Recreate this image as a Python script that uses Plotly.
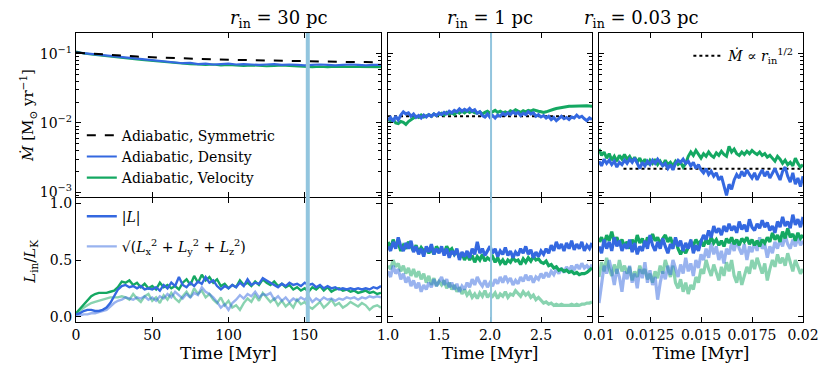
import numpy as np
import plotly.graph_objects as go

FONT = "DejaVu Serif"
BLUE = "#3468e0"
GREEN = "#14a862"
BLUE_LIGHT = "rgba(52,104,224,0.5)"
GREEN_LIGHT = "rgba(20,168,98,0.5)"
SNAP = "#92c5de"

# ---- data ----
titles = ["30", "1", "0.03"]
t_lim_30 = [0, 200]
t_lim_1 = [1.0, 3.0]
t_lim_003 = [0.01, 0.02]
snap_t_30 = 152
snap_t_1 = 2.01

# r_in = 30 pc, accretion rate
mdot_sym_30 = [0.104, 0.1, 0.097, 0.094, 0.091, 0.089, 0.087, 0.085, 0.084, 0.083, 0.082,
               0.081, 0.08, 0.079, 0.079, 0.078, 0.077, 0.077, 0.076, 0.076, 0.075]
mdot_den_30 = [0.105, 0.102, 0.1, 0.097, 0.094, 0.092, 0.089, 0.087, 0.085, 0.083, 0.081,
               0.079, 0.077, 0.075, 0.073, 0.074, 0.071, 0.072, 0.07, 0.071, 0.072, 0.07,
               0.071, 0.07, 0.069, 0.07, 0.071, 0.069, 0.07, 0.069, 0.068, 0.069, 0.07,
               0.069, 0.068, 0.069, 0.07, 0.069, 0.068, 0.069, 0.069]
mdot_vel_30 = [0.108, 0.101, 0.098, 0.095, 0.092, 0.09, 0.087, 0.085, 0.083, 0.081, 0.079,
               0.077, 0.075, 0.073, 0.072, 0.071, 0.07, 0.069, 0.07, 0.068, 0.069, 0.068,
               0.067, 0.068, 0.067, 0.066, 0.067, 0.068, 0.067, 0.066, 0.065, 0.064, 0.065,
               0.064, 0.065, 0.065, 0.064, 0.065, 0.064, 0.064, 0.064]

# r_in = 30 pc, angular momentum
L_den_30 = [0.02, 0.03, 0.05, 0.06, 0.06, 0.05, 0.05, 0.06, 0.08, 0.12, 0.18, 0.24, 0.27, 0.28,
            0.26, 0.27, 0.25, 0.27, 0.24, 0.25, 0.24, 0.26, 0.23, 0.28, 0.25, 0.3, 0.27, 0.35,
            0.28, 0.26, 0.3, 0.27, 0.31, 0.29, 0.35, 0.3, 0.32, 0.27, 0.24, 0.27, 0.25, 0.28,
            0.26, 0.3, 0.27, 0.33, 0.28, 0.3, 0.29, 0.34, 0.32, 0.3, 0.28, 0.26, 0.29, 0.27,
            0.3, 0.28, 0.29, 0.27, 0.3, 0.28, 0.29, 0.26, 0.28, 0.25, 0.27, 0.25, 0.26, 0.24,
            0.25, 0.24, 0.25, 0.24, 0.25, 0.24, 0.25, 0.24, 0.26, 0.25, 0.27]
L_vel_30 = [0.03, 0.07, 0.11, 0.15, 0.18, 0.2, 0.21, 0.21, 0.21, 0.22, 0.23, 0.26, 0.31, 0.3,
            0.32, 0.28, 0.3, 0.26, 0.29, 0.25, 0.27, 0.24, 0.3, 0.26, 0.28, 0.25, 0.27, 0.24,
            0.3, 0.33, 0.28, 0.36, 0.3, 0.37, 0.32, 0.35, 0.3, 0.33, 0.27, 0.29, 0.25, 0.28,
            0.26, 0.32, 0.28, 0.3, 0.27, 0.31, 0.28, 0.33, 0.3, 0.28, 0.31, 0.27, 0.29, 0.26,
            0.28, 0.24, 0.26, 0.23, 0.25, 0.22, 0.26, 0.24, 0.27, 0.23, 0.26, 0.22, 0.24, 0.25,
            0.23, 0.24, 0.22, 0.23, 0.21, 0.22, 0.23, 0.21, 0.22, 0.2, 0.21]
Lq_den_30 = [0.01, 0.01, 0.02, 0.02, 0.03, 0.03, 0.04, 0.05, 0.06, 0.09, 0.12, 0.14, 0.15, 0.17,
             0.16, 0.15, 0.17, 0.16, 0.18, 0.15, 0.17, 0.14, 0.18, 0.16, 0.2, 0.17, 0.22, 0.19,
             0.16, 0.2, 0.17, 0.21, 0.19, 0.26, 0.22, 0.2, 0.17, 0.13, 0.08, 0.11, 0.06, 0.12,
             0.15, 0.19, 0.16, 0.2, 0.18, 0.22, 0.17, 0.2, 0.19, 0.21, 0.15, 0.18, 0.14, 0.17,
             0.13, 0.16, 0.14, 0.17, 0.15, 0.18, 0.13, 0.16, 0.14, 0.17, 0.15, 0.16, 0.14, 0.16,
             0.15, 0.17, 0.16, 0.17, 0.15, 0.17, 0.16, 0.18, 0.17, 0.18, 0.17]
Lq_vel_30 = [0.02, 0.05, 0.08, 0.1, 0.12, 0.13, 0.14, 0.15, 0.16, 0.17, 0.17, 0.17, 0.18, 0.17,
             0.15, 0.2, 0.16, 0.13, 0.18, 0.2, 0.14, 0.17, 0.12, 0.19, 0.15, 0.21, 0.16, 0.13,
             0.18, 0.22, 0.17, 0.25, 0.2, 0.23, 0.17, 0.2, 0.15, 0.12, 0.17, 0.1, 0.14, 0.08,
             0.1, 0.06, 0.12, 0.16, 0.13, 0.19, 0.14, 0.21, 0.17, 0.13, 0.16, 0.1, 0.14, 0.09,
             0.12, 0.08, 0.15, 0.11, 0.13, 0.09, 0.07, 0.1, 0.13, 0.08, 0.11, 0.15, 0.1, 0.12,
             0.08, 0.1, 0.13, 0.11, 0.09, 0.12, 0.1, 0.06, 0.09, 0.1, 0.08]

# r_in = 1 pc
mdot_den_1 = [0.011, 0.012, 0.0105, 0.0125, 0.011, 0.013, 0.0145, 0.0135, 0.014, 0.0125, 0.0135,
              0.012, 0.0128, 0.0118, 0.013, 0.0122, 0.0132, 0.0125, 0.0135, 0.0128, 0.014,
              0.0132, 0.0142, 0.0135, 0.0148, 0.014, 0.0152, 0.0145, 0.016, 0.0148, 0.0158,
              0.015, 0.0162, 0.0148, 0.0155, 0.0138, 0.0145, 0.0128, 0.0122, 0.0135, 0.012,
              0.0128, 0.0118, 0.013, 0.0125, 0.0138, 0.013, 0.014, 0.0132, 0.0145, 0.0135,
              0.0142, 0.0128, 0.0138, 0.0132, 0.0145, 0.0135, 0.014, 0.0125, 0.0132, 0.0122,
              0.0128, 0.0118, 0.0125, 0.0112, 0.012, 0.0108, 0.0118, 0.0125, 0.0115, 0.012,
              0.0112, 0.0122, 0.0118, 0.013, 0.012, 0.0125, 0.0115, 0.0108, 0.0118, 0.0112]
mdot_vel_1 = [0.0115, 0.0105, 0.0112, 0.01, 0.0098, 0.0105, 0.0102, 0.0095, 0.0105, 0.0112, 0.0118,
              0.0125, 0.012, 0.013, 0.0122, 0.0128, 0.0132, 0.0125, 0.0135, 0.0128, 0.0132,
              0.0138, 0.013, 0.0142, 0.0135, 0.014, 0.0132, 0.0145, 0.0138, 0.0148, 0.014,
              0.015, 0.0142, 0.0148, 0.014, 0.0138, 0.0145, 0.0135, 0.0142, 0.0148, 0.0138,
              0.0145, 0.0152, 0.0142, 0.0148, 0.014, 0.0145, 0.0138, 0.015, 0.0145, 0.0155,
              0.0148, 0.0142, 0.015, 0.0145, 0.0152, 0.0148, 0.0155, 0.015, 0.0148, 0.0145,
              0.0142, 0.0145, 0.0148, 0.0152, 0.0158, 0.0162, 0.0165, 0.0168, 0.017, 0.0172,
              0.0174, 0.0175, 0.0176, 0.0177, 0.0178, 0.0178, 0.0178, 0.0177, 0.0176, 0.0175]
scaling_t_1 = [1.0, 2.8]
scaling_mdot_1 = [0.0125, 0.0125]

L_den_1 = [0.62, 0.58, 0.66, 0.6, 0.7, 0.62, 0.58, 0.65, 0.6, 0.67, 0.57, 0.62, 0.55, 0.6, 0.53,
           0.62, 0.57, 0.64, 0.55, 0.6, 0.56, 0.62, 0.54, 0.6, 0.52, 0.58, 0.55, 0.6, 0.5, 0.57,
           0.53, 0.58, 0.52, 0.6, 0.55, 0.66, 0.56, 0.6, 0.54, 0.58, 0.62, 0.56, 0.6, 0.53, 0.58,
           0.55, 0.61, 0.54, 0.58, 0.52, 0.57, 0.54, 0.6, 0.56, 0.62, 0.55, 0.59, 0.52, 0.57,
           0.53, 0.58, 0.55, 0.6, 0.56, 0.63, 0.58, 0.66, 0.6, 0.64, 0.58, 0.65, 0.6, 0.67, 0.59,
           0.64, 0.6, 0.66, 0.58, 0.63, 0.6, 0.65]
L_vel_1 = [0.66, 0.6, 0.68, 0.62, 0.65, 0.58, 0.63, 0.6, 0.66, 0.62, 0.58, 0.63, 0.57, 0.61, 0.58,
           0.6, 0.56, 0.6, 0.55, 0.62, 0.58, 0.6, 0.56, 0.62, 0.58, 0.6, 0.55, 0.58, 0.52, 0.56,
           0.5, 0.55, 0.5, 0.54, 0.48, 0.53, 0.5, 0.55, 0.49, 0.52, 0.5, 0.53, 0.48, 0.52, 0.47,
           0.5, 0.46, 0.5, 0.48, 0.52, 0.49, 0.5, 0.46, 0.51, 0.48, 0.52, 0.49, 0.53, 0.5, 0.51,
           0.48, 0.47, 0.49, 0.45, 0.46, 0.43, 0.44, 0.41, 0.42, 0.4, 0.41, 0.39, 0.4, 0.38, 0.39,
           0.37, 0.38, 0.38, 0.39, 0.41, 0.43]
Lq_den_1 = [0.4, 0.35, 0.45, 0.38, 0.42, 0.33, 0.38, 0.3, 0.35, 0.27, 0.32, 0.25, 0.3, 0.22, 0.28,
            0.24, 0.3, 0.26, 0.33, 0.27, 0.31, 0.35, 0.28, 0.33, 0.26, 0.3, 0.24, 0.29, 0.22, 0.27,
            0.24, 0.3, 0.26, 0.33, 0.28, 0.35, 0.3, 0.27, 0.32, 0.26, 0.3, 0.27, 0.33, 0.29, 0.35,
            0.3, 0.36, 0.31, 0.34, 0.28, 0.32, 0.29, 0.35, 0.31, 0.37, 0.32, 0.36, 0.3, 0.35, 0.33,
            0.38, 0.34, 0.39, 0.35, 0.4, 0.37, 0.42, 0.38, 0.43, 0.39, 0.44, 0.4, 0.45, 0.41, 0.46,
            0.42, 0.47, 0.43, 0.45, 0.42, 0.46]
Lq_vel_1 = [0.45, 0.42, 0.5, 0.44, 0.47, 0.4, 0.45, 0.38, 0.43, 0.36, 0.42, 0.35, 0.4, 0.33, 0.38,
            0.3, 0.36, 0.28, 0.34, 0.27, 0.31, 0.28, 0.32, 0.25, 0.3, 0.24, 0.28, 0.22, 0.26, 0.2,
            0.24, 0.19, 0.22, 0.17, 0.2, 0.16, 0.21, 0.18, 0.23, 0.17, 0.2, 0.18, 0.21, 0.16, 0.2,
            0.18, 0.22, 0.17, 0.2, 0.19, 0.23, 0.2, 0.18, 0.22, 0.19, 0.21, 0.17, 0.19, 0.15, 0.17,
            0.14, 0.12, 0.13, 0.11, 0.12, 0.1, 0.11, 0.1, 0.11, 0.1, 0.1, 0.1, 0.11, 0.1, 0.11,
            0.1, 0.11, 0.11, 0.12, 0.12, 0.13]

# r_in = 0.03 pc
mdot_den_003 = [0.0028, 0.0024, 0.003, 0.0026, 0.0029, 0.0025, 0.0028, 0.0023, 0.0027, 0.0025,
                0.0029, 0.0026, 0.003, 0.0027, 0.0031, 0.0026, 0.0022, 0.0027, 0.0024, 0.0028,
                0.0025, 0.0029, 0.0026, 0.003, 0.0027, 0.0024, 0.0026, 0.0022, 0.0025, 0.0021,
                0.0026, 0.0029, 0.0027, 0.003, 0.0026, 0.0028, 0.0024, 0.0027, 0.0022, 0.0025,
                0.0021, 0.0019, 0.0022, 0.0018, 0.002, 0.0017, 0.0019, 0.0015, 0.0017, 0.0012,
                0.0009, 0.0013, 0.0011, 0.0015, 0.0018, 0.0016, 0.002, 0.0017, 0.0021, 0.0018,
                0.0016, 0.0019, 0.0015, 0.0018, 0.0021, 0.0017, 0.002, 0.0016, 0.0019, 0.0022,
                0.0018, 0.0015, 0.002, 0.0023, 0.0017, 0.0014, 0.0019, 0.0013, 0.0016, 0.0012,
                0.0017]
mdot_vel_003 = [0.0042, 0.0034, 0.0038, 0.0031, 0.0036, 0.0029, 0.0033, 0.0028, 0.0034, 0.003,
                0.0035, 0.003, 0.0033, 0.0028, 0.0032, 0.0027, 0.0031, 0.0026, 0.003, 0.0025,
                0.0029, 0.0026, 0.003, 0.0025, 0.0028, 0.0024, 0.0029, 0.0025, 0.0027, 0.0024,
                0.0028, 0.0025, 0.0027, 0.0023, 0.0026, 0.0033, 0.0038, 0.0034, 0.004, 0.0035,
                0.0031, 0.0036, 0.0033, 0.0038, 0.0034, 0.0032, 0.0037, 0.0034, 0.0039, 0.0035,
                0.0033, 0.0046, 0.0038, 0.0042, 0.0036, 0.0034, 0.0038, 0.0035, 0.0039, 0.0036,
                0.004, 0.0037, 0.0035, 0.0038, 0.0034, 0.0036, 0.0032, 0.0034, 0.0031, 0.0028,
                0.0033, 0.003, 0.0026, 0.0029, 0.0025, 0.0027, 0.0024, 0.0031, 0.0026, 0.0023,
                0.0025]
scaling_t_003 = [0.0112, 0.02]
scaling_mdot_003 = [0.00218, 0.00218]

L_den_003 = [0.62, 0.56, 0.68, 0.6, 0.66, 0.58, 0.7, 0.62, 0.67, 0.58, 0.64, 0.6, 0.68, 0.57, 0.65,
             0.55, 0.62, 0.58, 0.67, 0.6, 0.72, 0.63, 0.58, 0.66, 0.6, 0.69, 0.62, 0.56, 0.64, 0.6,
             0.7, 0.62, 0.67, 0.58, 0.65, 0.6, 0.68, 0.56, 0.63, 0.58, 0.66, 0.72, 0.68, 0.76, 0.7,
             0.8, 0.74, 0.78, 0.72, 0.8, 0.75, 0.82, 0.76, 0.8, 0.74, 0.84, 0.77, 0.81, 0.75, 0.86,
             0.79, 0.76, 0.82, 0.78, 0.85, 0.79, 0.83, 0.76, 0.8, 0.74, 0.84, 0.79, 0.88, 0.8, 0.84,
             0.78, 0.9, 0.81, 0.86, 0.79, 0.88]
L_vel_003 = [0.66, 0.7, 0.64, 0.72, 0.67, 0.75, 0.66, 0.7, 0.64, 0.68, 0.62, 0.66, 0.6, 0.68, 0.63,
             0.72, 0.65, 0.69, 0.62, 0.7, 0.66, 0.73, 0.67, 0.7, 0.64, 0.69, 0.72, 0.66, 0.7, 0.63,
             0.68, 0.6, 0.55, 0.6, 0.56, 0.62, 0.66, 0.63, 0.68, 0.64, 0.67, 0.62, 0.68, 0.64, 0.7,
             0.65, 0.68, 0.63, 0.67, 0.62, 0.69, 0.65, 0.7, 0.64, 0.68, 0.63, 0.69, 0.66, 0.7, 0.64,
             0.68, 0.63, 0.67, 0.62, 0.68, 0.65, 0.7, 0.66, 0.74, 0.68, 0.72, 0.66, 0.75, 0.69, 0.78,
             0.7, 0.73, 0.67, 0.74, 0.69, 0.72]
Lq_den_003 = [0.12, 0.3, 0.45, 0.38, 0.5, 0.4, 0.28, 0.42, 0.35, 0.22, 0.4, 0.33, 0.45, 0.3, 0.38,
              0.25, 0.42, 0.34, 0.48, 0.3, 0.41, 0.28, 0.35, 0.15, 0.3, 0.4, 0.33, 0.45, 0.37, 0.5,
              0.42, 0.35, 0.46, 0.38, 0.52, 0.4, 0.47, 0.36, 0.5, 0.43, 0.55, 0.5, 0.6, 0.52, 0.65,
              0.55, 0.62, 0.5, 0.58, 0.47, 0.6, 0.55, 0.65, 0.58, 0.68, 0.6, 0.55, 0.64, 0.5, 0.62,
              0.57, 0.66, 0.58, 0.7, 0.6, 0.64, 0.52, 0.62, 0.56, 0.66, 0.6, 0.68, 0.62, 0.72, 0.64,
              0.6, 0.68, 0.62, 0.7, 0.63, 0.67]
Lq_vel_003 = [0.35, 0.48, 0.4, 0.52, 0.42, 0.36, 0.46, 0.38, 0.5, 0.4, 0.45, 0.38, 0.44, 0.32, 0.4,
              0.35, 0.45, 0.38, 0.42, 0.33, 0.38, 0.3, 0.4, 0.34, 0.45, 0.38, 0.5, 0.42, 0.35, 0.45,
              0.3, 0.25, 0.33, 0.22, 0.3, 0.2, 0.28, 0.24, 0.35, 0.3, 0.42, 0.38, 0.5, 0.42, 0.36,
              0.46, 0.4, 0.32, 0.44, 0.36, 0.48, 0.4, 0.5, 0.36, 0.3, 0.4, 0.28, 0.36, 0.44, 0.38,
              0.5, 0.42, 0.52, 0.45, 0.38, 0.47, 0.32, 0.42, 0.5, 0.44, 0.55, 0.47, 0.52, 0.45, 0.56,
              0.48, 0.4, 0.5, 0.44, 0.38, 0.42]

x_ticks = [[0, 50, 100, 150], [1.0, 1.5, 2.0, 2.5], [0.01, 0.0125, 0.015, 0.0175, 0.02]]
x_ticktext = [["0", "50", "100", "150"], ["1.0", "1.5", "2.0", "2.5"],
              ["0.01", "0.0125", "0.015", "0.0175", "0.02"]]


def tgrid(lim, vals):
    return np.linspace(lim[0], lim[1], len(vals))


fig = go.Figure()


def line(x, y, col, xa, ya, width=2.2, dash="solid", name=None, legend=None, rank=None,
         group=None):
    fig.add_trace(go.Scatter(
        x=x, y=y, mode="lines", xaxis=xa, yaxis=ya,
        line=dict(color=col, width=width, dash=dash),
        name=name or "", showlegend=legend is not None,
        legend=legend or "legend", legendrank=rank or 1000,
        legendgroup=group,
    ))


# top row: accretion rate
line(tgrid(t_lim_30, mdot_vel_30), mdot_vel_30, GREEN, "x", "y", 2.2,
     name="Adiabatic, Velocity", legend="legend", rank=3)
line(tgrid(t_lim_30, mdot_den_30), mdot_den_30, BLUE, "x", "y", 2.2,
     name="Adiabatic, Density", legend="legend", rank=2)
line(tgrid(t_lim_30, mdot_sym_30), mdot_sym_30, "black", "x", "y", 2, dash="dash",
     name="Adiabatic, Symmetric", legend="legend", rank=1)

line(scaling_t_1, scaling_mdot_1, "black", "x2", "y2", 2, dash="dot")
line(tgrid(t_lim_1, mdot_vel_1), mdot_vel_1, GREEN, "x2", "y2", 3)
line(tgrid(t_lim_1, mdot_den_1), mdot_den_1, BLUE, "x2", "y2", 3)

line(scaling_t_003, scaling_mdot_003, "black", "x3", "y3", 2, dash="dot",
     name="<i>Ṁ</i> ∝ <i>r</i><sub>in</sub><sup>1/2</sup>", legend="legend3")
line(tgrid(t_lim_003, mdot_vel_003), mdot_vel_003, GREEN, "x3", "y3", 3)
line(tgrid(t_lim_003, mdot_den_003), mdot_den_003, BLUE, "x3", "y3", 3)

# bottom row: angular momentum
sqrt_label = ("√(<i>L</i><sub>x</sub><sup>2</sup> + <i>L</i><sub>y</sub><sup>2</sup>"
              " + <i>L</i><sub>z</sub><sup>2</sup>)")
for lim, Ld, Lv, Lqd, Lqv, xa, ya, w in [
    (t_lim_30, L_den_30, L_vel_30, Lq_den_30, Lq_vel_30, "x4", "y4", 2.4),
    (t_lim_1, L_den_1, L_vel_1, Lq_den_1, Lq_vel_1, "x5", "y5", 3.2),
    (t_lim_003, L_den_003, L_vel_003, Lq_den_003, Lq_vel_003, "x6", "y6", 3.2),
]:
    first = xa == "x4"
    line(tgrid(lim, Lqv), Lqv, GREEN_LIGHT, xa, ya, w)
    line(tgrid(lim, Lqd), Lqd, BLUE_LIGHT, xa, ya, w,
         name=sqrt_label if first else None, legend="legend2" if first else None, rank=2,
         group="Lq" if first else None)
    line(tgrid(lim, Lv), Lv, GREEN, xa, ya, w)
    line(tgrid(lim, Ld), Ld, BLUE, xa, ya, w,
         name="|<i>L</i>|" if first else None, legend="legend2" if first else None, rank=1,
         group="L" if first else None)

x_dom = [[0, 0.4195], [0.4292, 0.7098], [0.7194, 1.0]]
top_dom = [0.4325, 1.0]
bot_dom = [0.0, 0.429]
x_lims = [t_lim_30, t_lim_1, t_lim_003]

axis_common = dict(
    showline=True, linecolor="black", linewidth=1.3, mirror="ticks",
    ticks="inside", ticklen=4.5, tickwidth=1, tickcolor="black",
    showgrid=False, zeroline=False, automargin=False,
    tickfont=dict(family=FONT, size=14, color="black"),
)

layout_axes = {}
for i in range(3):
    top = "" if i == 0 else str(i + 1)
    bot = str(i + 4)
    layout_axes["xaxis" + top] = dict(axis_common, domain=x_dom[i], anchor="y" + top,
                                      range=x_lims[i], tickvals=x_ticks[i],
                                      showticklabels=False)
    layout_axes["xaxis" + bot] = dict(axis_common, domain=x_dom[i], anchor="y" + bot,
                                      range=x_lims[i], tickvals=x_ticks[i],
                                      ticktext=x_ticktext[i],
                                      title=dict(text="Time [Myr]", standoff=4,
                                                 font=dict(family=FONT, size=17)))
    layout_axes["yaxis" + top] = dict(axis_common, domain=top_dom, anchor="x" + top,
                                      type="log", range=[-3.07, -0.70],
                                      tickvals=[0.001, 0.01, 0.1],
                                      ticktext=["10<sup>−3</sup>", "10<sup>−2</sup>",
                                                "10<sup>−1</sup>"],
                                      showticklabels=(i == 0),
                                      minor=dict(ticks="inside", ticklen=2.5, dtick="D1",
                                                 tickcolor="black", showgrid=False))
    layout_axes["yaxis" + bot] = dict(axis_common, domain=bot_dom, anchor="x" + bot,
                                      range=[-0.047, 1.047], tickvals=[0, 0.5, 1.0],
                                      ticktext=["0.0", "0.5", "1.0"],
                                      showticklabels=(i == 0))

annotations = []
for i, r in enumerate(titles):
    annotations.append(dict(
        text=f"<i>r</i><sub>in</sub> = {r} pc", xref="paper", yref="paper",
        x=(x_dom[i][0] + x_dom[i][1]) / 2, y=1.0, yanchor="bottom", yshift=0,
        showarrow=False, font=dict(family=FONT, size=18, color="black"),
    ))
# y axis titles
annotations.append(dict(
    text="<i>Ṁ</i> [M<sub>⊙</sub> yr<sup>−1</sup>]", xref="paper", yref="paper",
    x=-0.066, y=0.713, xanchor="center", yanchor="middle", textangle=-90,
    showarrow=False, font=dict(family=FONT, size=15, color="black"),
))
annotations.append(dict(
    text="<i>L</i><sub>in</sub>/<i>L</i><sub>K</sub>", xref="paper", yref="paper",
    x=-0.062, y=0.208, xanchor="center", yanchor="middle", textangle=-90,
    showarrow=False, font=dict(family=FONT, size=15, color="black"),
))

shapes = [
    dict(type="line", xref="x", yref="paper", x0=snap_t_30, x1=snap_t_30, y0=0, y1=1,
         line=dict(color=SNAP, width=4), layer="above"),
    dict(type="line", xref="x2", yref="paper", x0=snap_t_1, x1=snap_t_1, y0=0, y1=1,
         line=dict(color=SNAP, width=2), layer="above"),
]

legend_common = dict(bgcolor="rgba(0,0,0,0)", borderwidth=0,
                     font=dict(family=FONT, size=14, color="black"),
                     xanchor="left", yanchor="top", tracegroupgap=0)

fig.update_layout(
    width=830, height=376,
    margin=dict(l=76, r=27, t=33, b=54, autoexpand=False),
    paper_bgcolor="white", plot_bgcolor="white",
    font=dict(family=FONT, color="black"),
    annotations=annotations, shapes=shapes,
    legend=dict(legend_common, x=0.008, y=0.70),
    legend2=dict(legend_common, x=0.008, y=0.42, tracegroupgap=9),
    legend3=dict(legend_common, x=0.995, y=0.975, xanchor="right"),
    **layout_axes,
)

fig.write_html("out.html", config={"displayModeBar": False},
               post_script="document.body.style.margin = '0';")
